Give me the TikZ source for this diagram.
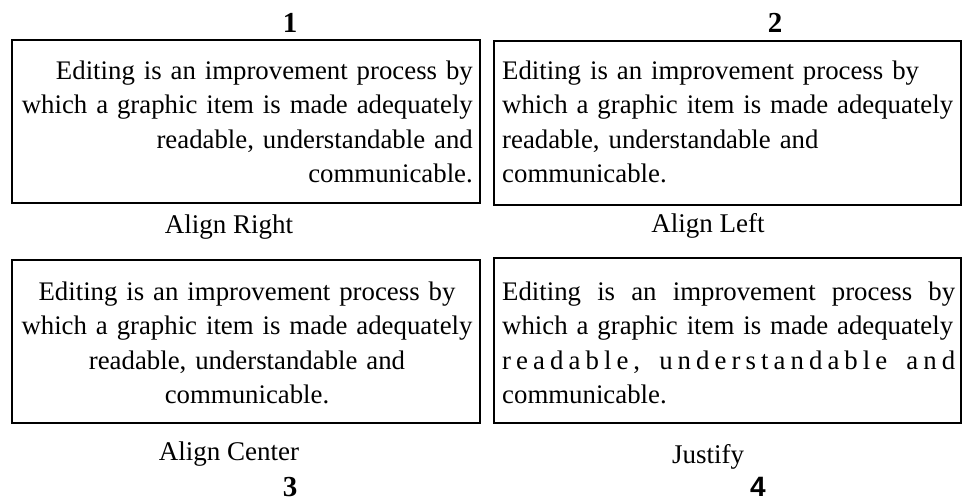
\documentclass[tikz,border=0pt]{standalone}
\usepackage{fontspec}
\setmainfont{Liberation Serif}
\newfontfamily\numsans{Liberation Sans}

\tikzset{
  framebox/.style={draw, line width=1.6pt, inner sep=0pt},
  boxtext/.style={inner sep=0pt, text width=470pt, font=\fontsize{26.8}{34.5}\selectfont},
  caption/.style={anchor=base, inner sep=0pt, font=\fontsize{27}{28}\selectfont},
  number/.style={anchor=base, inner sep=0pt, font=\fontsize{29}{30}\selectfont\bfseries}
}

\begin{document}
\begin{tikzpicture}[x=1pt, y=-1pt]
\useasboundingbox (0,0) rectangle (964,501);
%%% the four alignments %%%

      %% 1
      \node[number] (num1) at (290,32) {1};
      \node[framebox, minimum width=468pt, minimum height=163pt] (frame1) at (246,121.5) {};
      \node[boxtext, align=right, anchor=base east] (box1) at (473,79)
        {Editing is an improvement process by\\ which a graphic item is made adequately\\ readable, understandable and\\ communicable.};
      \node[caption] (cap1) at (229,233) {Align Right};
      %% 2
      \node[number] (num2) at (775,32) {2};
      \node[framebox, minimum width=467pt, minimum height=164pt] (frame2) at (727.5,123) {};
      \node[boxtext, align=left, anchor=base west] (box2) at (502,79)
        {Editing is an improvement process by\\ which a graphic item is made adequately\\ readable, understandable and\\ communicable.};
      \node[caption] (cap2) at (708,232) {Align Left};
      %% 3
      \node[framebox, minimum width=468pt, minimum height=163pt] (frame3) at (246,341.5) {};
      \node[boxtext, align=center, anchor=base] (box3) at (247,300)
        {Editing is an improvement process by\\ which a graphic item is made adequately\\ readable, understandable and\\ communicable.};
      \node[caption] (cap3) at (229,460) {Align Center};
      \node[number] (num3) at (290,496) {3};
      %% 4
      \node[framebox, minimum width=467pt, minimum height=165pt] (frame4) at (727.5,340.5) {};
      \node[boxtext, align=left, anchor=base west] (box4) at (502,300)
        {\makebox[453pt][s]{Editing\hfil\ is\hfil\ an\hfil\ improvement\hfil\ process\hfil\ by}\\
         which a graphic item is made adequately\\
         \makebox[453pt][s]{r\hfil e\hfil a\hfil d\hfil a\hfil b\hfil l\hfil e\hfil ,\hfil\ \hfil
           u\hfil n\hfil d\hfil e\hfil r\hfil s\hfil t\hfil a\hfil n\hfil d\hfil a\hfil b\hfil l\hfil e\hfil\ \hfil
           a\hfil n\hfil d}\\
         communicable.};
      \node[caption] (cap4) at (708,463) {Justify};
      \node[number, font=\fontsize{28}{30}\selectfont\numsans\bfseries] (num4) at (758,496) {4};

\end{tikzpicture}
\end{document}
